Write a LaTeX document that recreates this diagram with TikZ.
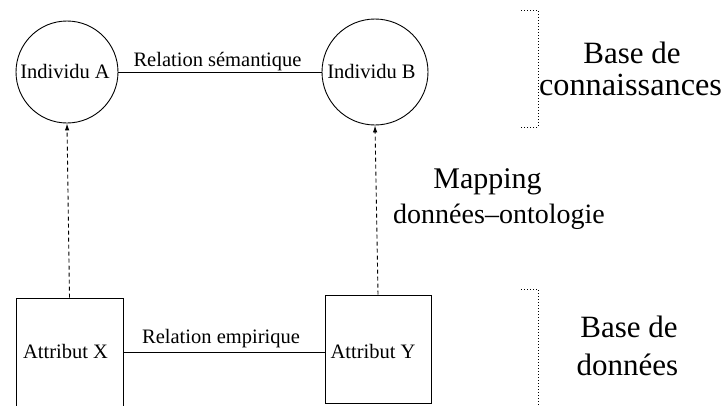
\documentclass[tikz,border=0pt]{standalone}
\usepackage{fontspec}
\setmainfont{Liberation Serif}
\usetikzlibrary{arrows.meta}
\tikzset{
  small/.style={font=\fontsize{20.5}{24}\selectfont, inner sep=0pt, anchor=base},
  big/.style={font=\fontsize{#1}{34}\selectfont, inner sep=0pt, anchor=base},
  ent/.style={circle, draw, line width=0.9pt, inner sep=0pt, minimum size=#1},
  attr/.style={rectangle, draw, line width=0.9pt, inner sep=0pt},
  rel/.style={line width=0.9pt},
  mapline/.style={dashed, dash pattern=on 4pt off 3pt, line width=0.9pt, -{Latex[length=7pt,width=4.5pt]}},
  brk/.style={dotted, line width=0.8pt, dash pattern=on 1pt off 2pt}
}
\begin{document}
\begin{tikzpicture}[x=1pt,y=-1pt]
\useasboundingbox (0,0) rectangle (726,405);
\clip (0,0) rectangle (726,405);
% entities
\node[ent=102pt] (A) at (67,72) {};
\node[ent=106pt] (B) at (375,72) {};
\node[small] (At) at (65,78) {Individu A};
\node[small] (Bt) at (371.5,78) {Individu B};
\draw[rel] (A.east) -- (B.west);
\node[small] (Rs) at (217.5,66.5) {Relation sémantique};
% attributes
\node[attr, minimum width=107pt, minimum height=108pt] (X) at (69.5,352) {};
\node[attr, minimum width=106pt, minimum height=108pt] (Y) at (378,349) {};
\node[small] (Xt) at (65.5,358) {Attribut X};
\node[small] (Yt) at (373,358) {Attribut Y};
\draw[rel] (X.east) -- (Y.west |- X.east);
\node[small] (Re) at (221,343) {Relation empirique};
% mappings
\draw[mapline] (X.north) -- (A.south);
\draw[mapline] (Y.north) -- (B.south);
% brackets
\draw[brk] (521,10) -- (538,10) -- (538,127) -- (521,127);
\draw[brk] (521,289) -- (538,289) -- (538,410);
% right labels
\node[big=31] (Kb1) at (632,63) {Base de};
\node[big=32.3] (Kb2) at (630.5,95) {connaissances};
\node[big=30] (Mp1) at (487.5,188) {Mapping};
\node[big=28] (Mp2) at (499,223) {données–ontologie};
\node[big=31] (Db1) at (629,337) {Base de};
\node[big=31] (Db2) at (627.5,375) {données};
\end{tikzpicture}
\end{document}
